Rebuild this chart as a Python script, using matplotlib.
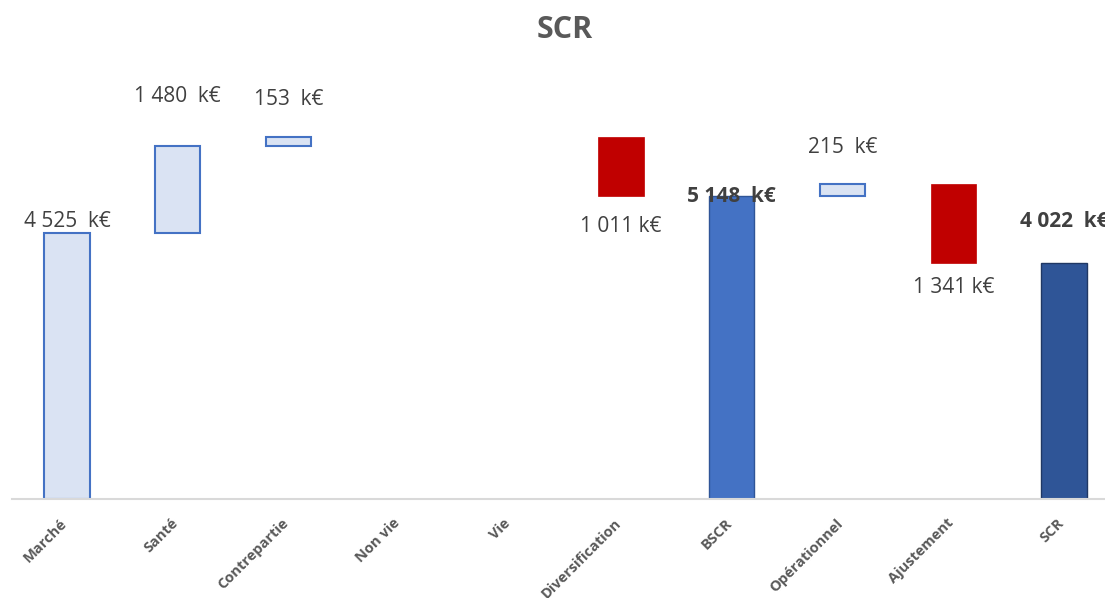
import matplotlib
matplotlib.use("Agg")
import matplotlib.pyplot as plt
from matplotlib.transforms import ScaledTranslation

categories = ["Marché", "Santé", "Contrepartie", "Non vie", "Vie",
              "Diversification", "BSCR", "Opérationnel", "Ajustement", "SCR"]
# change per step (None = total bar)
changes = [4525, 1480, 153, 0, 0, -1011, None, 215, -1341, None]
totals = {6: 5148, 9: 4022}
data_labels = ["4 525  k€", "1 480  k€", "153  k€", "", "",
               "1 011 k€", "5 148  k€", "215  k€", "1 341 k€", "4 022  k€"]

# styles
LIGHT, EDGE, RED, BSCR_C, SCR_C = "#DAE3F3", "#4472C4", "#C00000", "#4472C4", "#2F5597"
label_off = [12, 49, 38, -30, 0, -30, 0, 36, -25, 41]  # pixel offsets
bold = [False, False, False, False, False, False, True, False, False, True]

fig = plt.figure(figsize=(11.05, 5.98), dpi=100)
ax = fig.add_axes([11.6 / 1105, 1 - 499 / 598, 1107.8 / 1105, (499 - 60) / 598])

running = 0
x = list(range(len(categories)))
for i, cat in enumerate(categories):
    ch = changes[i]
    if ch is None:
        val = totals[i]
        color = BSCR_C if i == 6 else SCR_C
        ec = "#2F5597" if i == 6 else "#203864"
        ax.bar(i, val, width=0.41, bottom=0, color=color, edgecolor=ec, linewidth=1.0)
        running = val
        anchor = val
    elif ch == 0:
        continue
    else:
        start = running
        end = running + ch
        bottom = min(start, end)
        h = abs(ch)
        if ch > 0:
            ax.bar(i, h, width=0.41, bottom=bottom, color=LIGHT, edgecolor=EDGE, linewidth=1.5)
        else:
            ax.bar(i, h, width=0.41, bottom=bottom, color=RED, edgecolor=RED, linewidth=0.5)
        anchor = end
        running = end
    if data_labels[i]:
        ax.annotate(data_labels[i], xy=(i, anchor), xytext=(0, label_off[i]),
                    textcoords="offset pixels", ha="center", va="center",
                    fontsize=15, family="Open Sans", color="#404040",
                    fontweight="bold" if bold[i] else "normal")

ax.set_xlim(-0.5, 9.5)
ax.set_ylim(0, (499 - 60) / (266 / 4525))
ax.set_yticks([])
for s in ["top", "right", "left"]:
    ax.spines[s].set_visible(False)
ax.spines["bottom"].set_color("#D9D9D9")
ax.spines["bottom"].set_linewidth(1.5)
ax.set_xticks(x)
ax.set_xticklabels(categories, rotation=45, ha="right", rotation_mode="anchor",
                   fontsize=10.5, fontweight="bold", family="Open Sans", color="#595959")
ax.tick_params(axis="x", length=0, pad=8)
shift = ScaledTranslation(-7 / 100, -6 / 100, fig.dpi_scale_trans)
for lab in ax.get_xticklabels():
    lab.set_transform(lab.get_transform() + shift)

fig.text(565 / 1105, 1 - 30 / 598, "SCR", ha="center", va="center",
         fontsize=22, fontweight="bold", family="Open Sans", color="#595959")

fig.savefig("out.png", dpi=100)
